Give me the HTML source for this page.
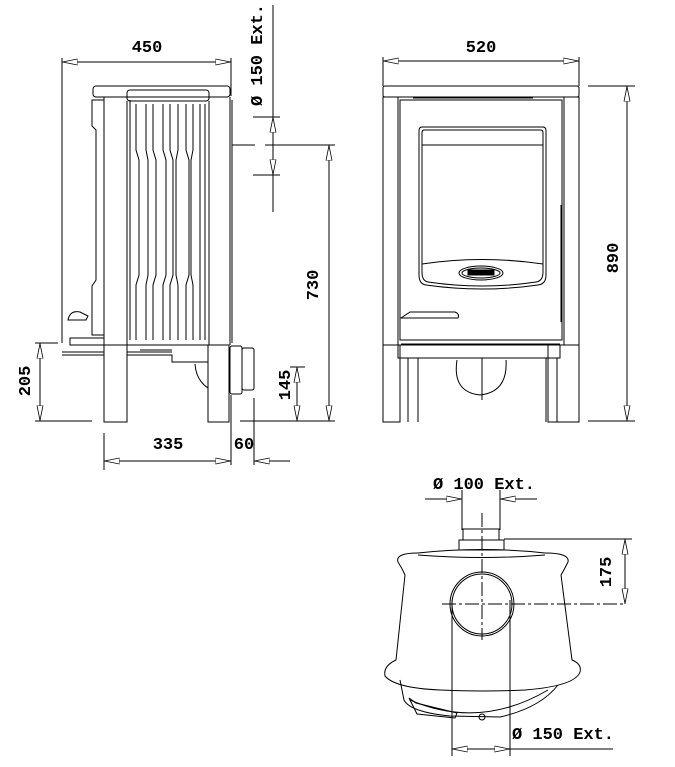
<!DOCTYPE html>
<html><head><meta charset="utf-8"><style>
html,body{margin:0;padding:0;background:#fff}
svg{display:block}
text{font-family:"Liberation Mono",monospace;font-weight:bold;font-size:17px;fill:#000}
</style></head><body>
<svg width="675" height="767" viewBox="0 0 675 767" xmlns="http://www.w3.org/2000/svg">
<defs>
<marker id="a" viewBox="0 0 16 8" refX="15.5" refY="4" markerWidth="16" markerHeight="8" markerUnits="userSpaceOnUse" orient="auto-start-reverse">
<polygon points="15,4 0,1 0,7" fill="#fff" stroke="#000" stroke-width="0.8"/>
</marker>
</defs>
<g fill="none" stroke="#000" stroke-width="1">
<!-- ===== SIDE VIEW ===== -->
<line x1="62" y1="58" x2="62" y2="343"/>
<line x1="231" y1="58" x2="231" y2="96"/>
<line x1="62" y1="62" x2="231" y2="62" marker-start="url(#a)" marker-end="url(#a)"/>
<rect x="93" y="86" width="137" height="11" rx="3"/>
<rect x="127" y="90" width="82" height="11" rx="3"/>
<line x1="104" y1="97" x2="104" y2="345"/>
<line x1="127" y1="101" x2="127" y2="345"/>
<line x1="209" y1="101" x2="209" y2="345"/>
<line x1="230" y1="97" x2="230" y2="345"/>
<line x1="232" y1="100" x2="232" y2="343"/>
<path d="M104 100 H92 V126 L96 130 V280 L92 286 V335 H104"/>
<path d="M130 100 V340 M136 104 V150 L139 160 V275 L136 285 V340 M146 104 V150 L148 160 V275 L146 285 V340 M153 104 V150 L156 160 V275 L153 285 V340 M163 104 V150 L166 160 V275 L163 285 V340 M170 104 V150 L173 160 V275 L170 285 V340 M178 104 V150 L176 160 V275 L178 285 V340 M186 104 V150 L189 160 V275 L186 285 V340 M193 104 V150 L191 160 V275 L193 285 V340 M200 104 V340 M205 104 V340"/>
<path d="M68 320 Q70 310 80 312 L88 316 L86 320 Z"/>
<path d="M70 345 H104 V338 H70 Z"/>
<line x1="62" y1="352" x2="104" y2="352"/>
<line x1="62" y1="355" x2="104" y2="355"/>
<rect x="104" y="345" width="23" height="77"/>
<rect x="208" y="345" width="21" height="77"/>
<path d="M127 345 H229 M127 352 H172 M127 355 H172 V362 H208 M140 350 H172"/>
<path d="M195 364 Q196 380 208 388"/>
<rect x="230" y="346" width="12" height="48" rx="2"/>
<rect x="242" y="348" width="12" height="42" rx="2"/>
<line x1="231" y1="395" x2="231" y2="465"/>
<line x1="254" y1="398" x2="254" y2="465"/>
<line x1="104" y1="433" x2="104" y2="470"/>
<line x1="104" y1="461" x2="231" y2="461" marker-start="url(#a)" marker-end="url(#a)"/>
<line x1="254" y1="461" x2="290" y2="461"/>
<line x1="254" y1="461" x2="270" y2="461" marker-start="url(#a)"/>
<line x1="273" y1="5" x2="273" y2="212"/>
<line x1="253" y1="117" x2="280" y2="117"/>
<line x1="253" y1="175" x2="280" y2="175"/>
<line x1="273" y1="117" x2="273" y2="134" marker-start="url(#a)"/>
<line x1="273" y1="175" x2="273" y2="158" marker-start="url(#a)"/>
<line x1="232" y1="145" x2="255" y2="145"/>
<line x1="265" y1="145" x2="335" y2="145"/>
<line x1="329" y1="145" x2="329" y2="421" marker-start="url(#a)" marker-end="url(#a)"/>
<line x1="240" y1="421" x2="335" y2="421"/>
<line x1="35" y1="343" x2="58" y2="343"/>
<line x1="35" y1="421" x2="92" y2="421"/>
<line x1="40" y1="343" x2="40" y2="421" marker-start="url(#a)" marker-end="url(#a)"/>
<line x1="290" y1="367" x2="305" y2="367"/>
<line x1="297" y1="367" x2="297" y2="421" marker-start="url(#a)" marker-end="url(#a)"/>

<!-- ===== FRONT VIEW ===== -->
<line x1="383" y1="57" x2="383" y2="86"/>
<line x1="579" y1="57" x2="579" y2="86"/>
<line x1="383" y1="61" x2="579" y2="61" marker-start="url(#a)" marker-end="url(#a)"/>
<rect x="383" y="86" width="196" height="11" rx="2"/>
<rect x="383" y="97" width="196" height="248"/>
<line x1="398" y1="97" x2="398" y2="345"/>
<line x1="564" y1="97" x2="564" y2="345"/>
<rect x="400" y="100" width="162" height="240"/>
<line x1="413" y1="98" x2="533" y2="98"/>
<path d="M422 127 H543 Q546 127 546 131 V275 Q546 284 538 285 Q482 293 426 285 Q419 284 419 275 V131 Q419 127 422 127 Z"/>
<path d="M424 130 H541 Q543 130 543 133 V272 Q543 281 536 282 Q482 290 428 282 Q422 281 422 272 V133 Q422 130 424 130 Z"/>
<line x1="422" y1="145" x2="543" y2="145"/>
<path d="M422 264 Q482 255 543 264"/>
<ellipse cx="481" cy="273" rx="22" ry="7"/>
<ellipse cx="481" cy="273" rx="19" ry="5"/>
<rect x="468" y="270" width="26" height="5" fill="#000"/>
<line x1="561" y1="205" x2="561" y2="322"/>
<path d="M401 318 L410 312 H455 Q460 314 458 318 Z"/>
<line x1="401" y1="344" x2="560" y2="344"/>
<path d="M398 345 V358 H560 V345"/>
<rect x="383" y="345" width="17" height="77"/>
<rect x="548" y="345" width="31" height="77"/>
<line x1="408" y1="358" x2="408" y2="422"/>
<line x1="418" y1="358" x2="418" y2="422"/>
<line x1="546" y1="358" x2="546" y2="422"/>
<line x1="557" y1="358" x2="557" y2="422"/>
<path d="M457 360 Q452 392 480 395 Q508 392 506 360"/>
<line x1="482" y1="358" x2="482" y2="400"/>
<line x1="588" y1="86" x2="635" y2="86"/>
<line x1="588" y1="421" x2="635" y2="421"/>
<line x1="627" y1="86" x2="627" y2="421" marker-start="url(#a)" marker-end="url(#a)"/>

<!-- ===== TOP VIEW ===== -->
<line x1="425" y1="499" x2="462" y2="499"/>
<line x1="446" y1="499" x2="462" y2="499" marker-end="url(#a)"/>
<line x1="500" y1="499" x2="537" y2="499"/>
<line x1="500" y1="499" x2="516" y2="499" marker-start="url(#a)"/>
<line x1="462" y1="490" x2="462" y2="530"/>
<line x1="500" y1="490" x2="500" y2="530"/>
<rect x="463" y="529" width="36" height="11"/>
<rect x="459" y="540" width="45" height="10"/>
<path d="M418 553 Q482 546 545 553"/>
<path d="M418 555 Q482 560 545 555"/>
<path d="M418 553 Q395 553 398 562 Q402 568 405 575 L396 660 Q383 666 385 676 Q395 688 440 690 Q482 692 525 690 Q575 686 580 672 Q582 664 572 660 L561 575 Q564 570 568 562 Q570 553 545 553"/>
<circle cx="482" cy="604" r="32"/>
<circle cx="482" cy="604" r="30"/>
<path d="M400 680 L404 700 Q410 712 450 716 L500 717 Q540 708 558 685"/>
<path d="M410 700 Q480 730 548 690"/>
<path d="M409 698 L416 703 L457 713 L455 718 L417 714 Z"/>
<circle cx="482" cy="717" r="3"/>
<line x1="482" y1="513" x2="482" y2="640" stroke-dasharray="14 3 3 3"/>
<line x1="442" y1="604" x2="625" y2="604" stroke-dasharray="14 3 3 3"/>
<line x1="504" y1="539" x2="632" y2="539"/>
<line x1="625" y1="539" x2="625" y2="604" marker-start="url(#a)" marker-end="url(#a)"/>
<line x1="452" y1="600" x2="452" y2="756"/>
<line x1="510" y1="600" x2="510" y2="756"/>
<line x1="452" y1="749" x2="613" y2="749"/>
<line x1="452" y1="749" x2="468" y2="749" marker-start="url(#a)"/>
<line x1="494" y1="749" x2="510" y2="749" marker-end="url(#a)"/>
</g>
<!-- text -->
<text x="147" y="52" text-anchor="middle">450</text>
<text transform="translate(262,55) rotate(-90)" text-anchor="middle">Ø 150 Ext.</text>
<text transform="translate(318,285) rotate(-90)" text-anchor="middle">730</text>
<text transform="translate(30,381) rotate(-90)" text-anchor="middle">205</text>
<text transform="translate(290,385) rotate(-90)" text-anchor="middle">145</text>
<text x="168" y="449" text-anchor="middle">335</text>
<text x="244" y="449" text-anchor="middle">60</text>
<text x="481" y="52" text-anchor="middle">520</text>
<text transform="translate(618,258) rotate(-90)" text-anchor="middle">890</text>
<text x="484" y="489" text-anchor="middle">Ø 100  Ext.</text>
<text transform="translate(611,572) rotate(-90)" text-anchor="middle">175</text>
<text x="563" y="739" text-anchor="middle">Ø 150  Ext.</text>
</svg>
</body></html>
